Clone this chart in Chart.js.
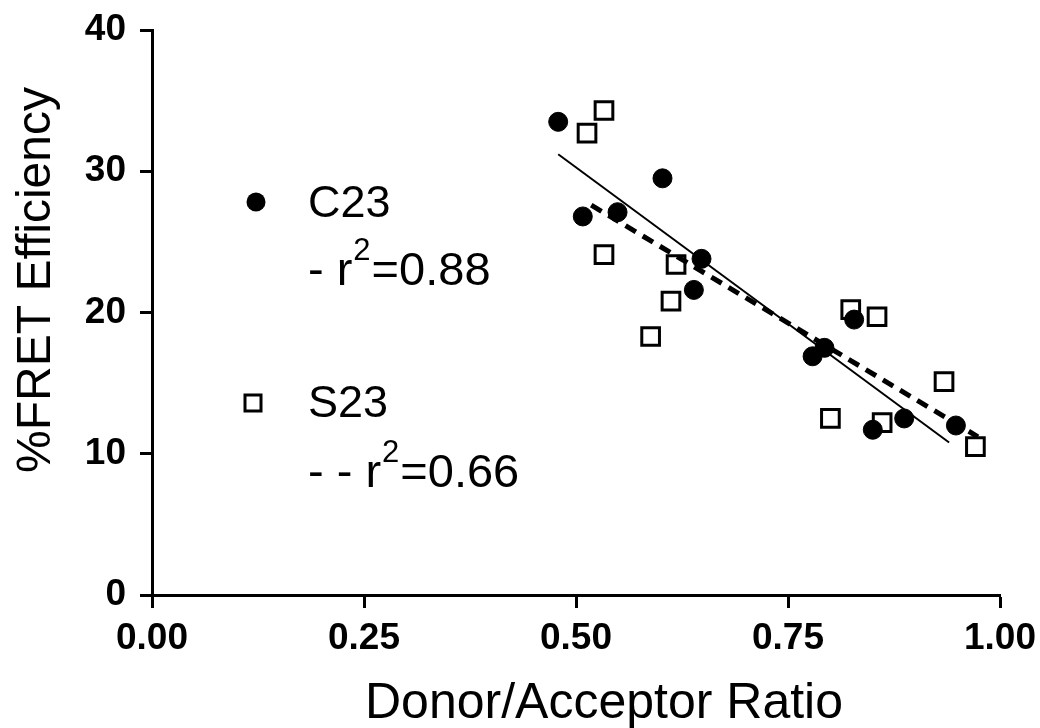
<!DOCTYPE html>
<html>
<head>
<meta charset="utf-8">
<script src="https://cdn.jsdelivr.net/npm/chart.js@4.4.0/dist/chart.umd.min.js"></script>
<style>
  body { margin: 0; background: #fff; }
  #wrap { width: 1040px; height: 728px; }
</style>
</head>
<body>
<div id="wrap"><canvas id="fretChart" width="1040" height="728"></canvas></div>
<script>
const seriesNames = ["C23", "S23"];
const rSquared = [0.88, 0.66];
const xTitle = "Donor/Acceptor Ratio";
const yTitle = "%FRET Efficiency";

const c23Ratio = [0.479, 0.508, 0.549, 0.602, 0.648, 0.639, 0.779, 0.793, 0.828, 0.850, 0.887, 0.948];
const c23Fret  = [33.5, 26.8, 27.1, 29.5, 23.8, 21.6, 16.9, 17.5, 19.5, 11.7, 12.5, 12.0];

const s23Ratio = [0.513, 0.533, 0.533, 0.618, 0.612, 0.588, 0.824, 0.855, 0.934, 0.800, 0.861, 0.971];
const s23Fret  = [32.7, 34.3, 24.1, 23.4, 20.8, 18.3, 20.2, 19.7, 15.1, 12.5, 12.2, 10.5];

// regression line end points
const c23FitRatio = [0.479, 0.940];
const c23FitFret  = [31.2, 10.8];
const s23FitRatio = [0.518, 0.974];
const s23FitFret  = [27.6, 11.2];

const xTicks = [0, 0.25, 0.5, 0.75, 1];
const yTicks = [0, 10, 20, 30, 40];

const toPoints = (xs, ys) => xs.map((x, i) => ({ x: x, y: ys[i] }));

const FONT = '"Liberation Sans", Arial, sans-serif';

// legend block drawn inside the plot, plus the axis titles
const textPlugin = {
  id: "textPlugin",
  afterDraw(chart) {
    const ctx = chart.ctx;
    ctx.save();
    ctx.fillStyle = "#000";
    ctx.textBaseline = "alphabetic";

    ctx.font = "50px " + FONT;
    ctx.textAlign = "left";
    ctx.fillText(xTitle, 365, 718);

    ctx.save();
    ctx.translate(50, 280);
    ctx.rotate(-Math.PI / 2);
    ctx.textAlign = "center";
    ctx.font = "48px " + FONT;
    ctx.fillText(yTitle, 0, 0);
    ctx.restore();

    const rows = [
      { markerX: 256, markerY: 202, nameY: 217, rY: 285, prefix: "- " },
      { markerX: 253, markerY: 403, nameY: 417, rY: 487, prefix: "- - " }
    ];
    rows.forEach((row, i) => {
      ctx.lineWidth = 3;
      ctx.strokeStyle = "#000";
      if (i === 0) {
        ctx.beginPath();
        ctx.arc(row.markerX, row.markerY, 9.5, 0, Math.PI * 2);
        ctx.fill();
      } else {
        ctx.fillStyle = "#fff";
        ctx.fillRect(row.markerX - 8, row.markerY - 8, 16, 16);
        ctx.strokeRect(row.markerX - 8, row.markerY - 8, 16, 16);
        ctx.fillStyle = "#000";
      }
      ctx.textAlign = "left";
      ctx.font = "45px " + FONT;
      ctx.fillText(seriesNames[i], 308, row.nameY);

      let x = 308;
      ctx.font = "47px " + FONT;
      const first = row.prefix + "r";
      ctx.fillText(first, x, row.rY);
      x += ctx.measureText(first).width + 1;
      ctx.font = "31px " + FONT;
      ctx.fillText("2", x, row.rY - 25);
      x += ctx.measureText("2").width + 1;
      ctx.font = "47px " + FONT;
      ctx.fillText("=" + rSquared[i].toFixed(2), x, row.rY);
    });
    ctx.restore();
  }
};

const tickFont = { family: FONT, weight: "bold", size: 37 };

new Chart(document.getElementById("fretChart"), {
  type: "scatter",
  data: {
    datasets: [
      {
        label: "C23 fit",
        data: toPoints(c23FitRatio, c23FitFret),
        showLine: true,
        borderColor: "#000",
        borderWidth: 2,
        pointRadius: 0,
        fill: false
      },
      {
        label: "S23 fit",
        data: toPoints(s23FitRatio, s23FitFret),
        showLine: true,
        borderColor: "#000",
        borderWidth: 5,
        borderDash: [12, 8],
        pointRadius: 0,
        fill: false
      },
      {
        label: seriesNames[0],
        data: toPoints(c23Ratio, c23Fret),
        pointStyle: "circle",
        pointRadius: 9.5,
        backgroundColor: "#000",
        borderColor: "#000",
        borderWidth: 1
      },
      {
        label: seriesNames[1],
        data: toPoints(s23Ratio, s23Fret),
        pointStyle: "rect",
        pointRadius: 12.5,
        backgroundColor: "#fff",
        borderColor: "#000",
        borderWidth: 3
      }
    ]
  },
  options: {
    responsive: false,
    animation: false,
    layout: { padding: { top: 30, right: 40, left: 0, bottom: 0 } },
    plugins: {
      legend: { display: false },
      tooltip: { enabled: false }
    },
    scales: {
      x: {
        type: "linear",
        min: 0,
        max: 1,
        afterBuildTicks: (s) => { s.ticks = xTicks.map(v => ({ value: v })); },
        afterFit: (s) => {
          s.height = 133;
          s.paddingLeft = 0;
          s.paddingRight = 0;
        },
        ticks: {
          callback: (v) => Number(v).toFixed(2),
          font: tickFont,
          color: "#000",
          padding: 9,
          maxRotation: 0,
          autoSkip: false
        },
        grid: { drawOnChartArea: false, drawTicks: true, tickLength: 13, tickWidth: 3, tickColor: "#000" },
        border: { display: true, color: "#000", width: 3 }
      },
      y: {
        type: "linear",
        min: 0,
        max: 40,
        afterBuildTicks: (s) => { s.ticks = yTicks.map(v => ({ value: v })); },
        afterFit: (s) => {
          s.width = 152;
          s.paddingTop = 0;
          s.paddingBottom = 0;
        },
        ticks: {
          font: tickFont,
          color: "#000",
          padding: 14,
          autoSkip: false
        },
        grid: { drawOnChartArea: false, drawTicks: true, tickLength: 12, tickWidth: 3, tickColor: "#000" },
        border: { display: true, color: "#000", width: 3 }
      }
    }
  },
  plugins: [textPlugin]
});
</script>
</body>
</html>
